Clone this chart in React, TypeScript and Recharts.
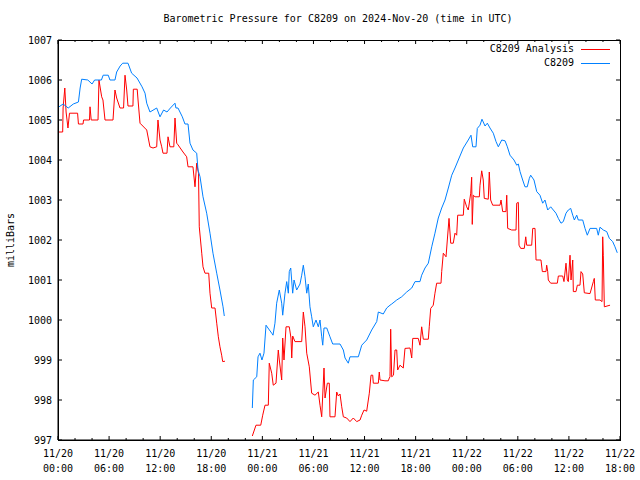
import { LineChart, Line, XAxis, YAxis } from 'recharts'

// [hours since 11/20 00:00 UTC, millibars]
const ANALYSIS_EARLY: [number, number][] = [
  [0.12, 1004.7], [0.55, 1004.7], [0.6, 1005.3], [0.8, 1005.8], [0.95, 1005.2], [1.17, 1004.8],
  [1.35, 1005.17], [2.3, 1005.17], [2.4, 1004.9], [2.94, 1004.9], [3.0, 1005.0], [3.7, 1005.0],
  [3.76, 1005.33], [3.9, 1005.0], [4.7, 1005.0], [4.81, 1006.0], [5.13, 1005.58], [5.28, 1005.5],
  [5.52, 1005.0], [6.46, 1005.0], [6.69, 1005.75], [6.89, 1005.55], [7.28, 1005.3], [7.7, 1005.3],
  [7.87, 1006.12], [8.07, 1005.75], [8.22, 1005.35], [8.8, 1005.35], [8.85, 1005.77], [9.3, 1005.77],
  [9.4, 1005.5], [9.63, 1004.92], [10.42, 1004.75], [10.8, 1004.33], [11.16, 1004.3], [11.59, 1004.33],
  [11.74, 1005.0], [11.98, 1004.5], [12.18, 1004.33], [12.33, 1004.17], [12.8, 1004.17], [12.92, 1004.58],
  [13.15, 1004.33], [13.6, 1004.33], [13.74, 1005.05], [13.94, 1004.42], [14.09, 1004.38], [14.68, 1004.2],
  [15.11, 1004.08], [15.27, 1003.83], [15.85, 1003.83], [16.09, 1003.33], [16.29, 1003.92], [16.5, 1003.67],
  [16.59, 1002.33], [16.88, 1001.67], [17.03, 1001.33], [17.26, 1001.17], [17.7, 1001.17], [17.85, 1000.67],
  [18.05, 1000.3], [18.44, 1000.3], [18.64, 999.92], [18.83, 999.58], [19.02, 999.33], [19.22, 999.12],
  [19.34, 998.96], [19.61, 998.97],
]

const ANALYSIS_LATE: [number, number][] = [
  [22.82, 997.1], [23.25, 997.37], [23.81, 997.37], [24.04, 997.62], [24.31, 997.87], [24.7, 997.87],
  [24.81, 998.92], [25.1, 998.67], [25.28, 998.37], [25.6, 998.42], [25.87, 999.25], [25.99, 999.0],
  [26.27, 998.5], [26.39, 999.55], [26.54, 999.0], [26.78, 999.83], [27.16, 999.83], [27.36, 999.55],
  [27.45, 999.05], [27.56, 999.6], [27.83, 999.46], [28.62, 999.46], [28.81, 1000.2], [29.01, 999.83],
  [29.21, 999.17], [29.51, 998.83], [29.79, 998.17], [30.18, 998.12], [30.57, 998.2], [30.77, 997.87],
  [30.97, 997.58], [31.24, 998.8], [31.36, 998.05], [31.63, 998.42], [31.86, 998.42], [31.94, 997.58],
  [32.53, 997.58], [32.73, 998.2], [32.92, 998.1], [33.12, 998.15], [33.32, 997.83], [33.51, 997.58],
  [33.9, 997.55], [34.29, 997.46], [34.68, 997.55], [35.08, 997.46], [35.47, 997.5], [35.67, 997.62],
  [35.94, 997.75], [36.25, 997.72], [36.56, 998.17], [36.76, 998.62], [36.96, 998.62], [37.03, 998.42],
  [37.62, 998.42], [37.73, 998.7], [37.82, 998.5], [38.4, 998.48], [38.79, 998.48], [38.91, 998.55],
  [38.99, 998.58], [39.07, 999.77], [39.19, 998.58], [39.4, 998.62], [39.58, 999.25], [39.78, 999.25],
  [39.89, 998.75], [40.16, 998.87], [40.55, 998.8], [40.75, 999.29], [41.34, 999.3], [41.54, 999.05],
  [41.66, 999.54], [42.31, 999.54], [42.51, 999.37], [42.71, 999.83], [42.9, 999.52], [43.49, 999.52],
  [43.6, 999.83], [43.77, 1000.29], [44.07, 1000.37], [44.27, 1000.67], [44.47, 1000.92], [44.98, 1000.92],
  [45.06, 1001.21], [45.25, 1001.67], [45.57, 1001.58], [45.72, 1002.0], [45.92, 1002.54], [46.12, 1001.92],
  [46.42, 1001.92], [46.62, 1002.17], [46.82, 1002.12], [46.94, 1002.62], [47.6, 1002.62], [47.71, 1003.02],
  [47.99, 1002.83], [48.18, 1002.75], [48.47, 1003.17], [48.58, 1003.57], [48.65, 1002.39], [48.77, 1003.12],
  [48.97, 1003.08], [49.48, 1003.08], [49.56, 1003.37], [49.76, 1003.73], [49.94, 1003.5], [50.06, 1003.04],
  [50.53, 1003.02], [50.65, 1003.7], [50.81, 1003.0], [51.05, 1002.87], [51.91, 1002.87], [52.03, 1003.0],
  [52.22, 1002.71], [52.61, 1002.71], [52.7, 1003.12], [52.81, 1002.29], [53.28, 1002.25], [53.79, 1002.25],
  [53.87, 1002.92], [54.06, 1002.94], [54.14, 1001.87], [54.34, 1001.79], [54.76, 1001.79], [54.93, 1002.08],
  [55.04, 1001.87], [55.63, 1001.87], [55.75, 1002.29], [56.02, 1002.29], [56.14, 1001.5], [56.72, 1001.5],
  [56.88, 1001.21], [57.31, 1001.21], [57.39, 1001.37], [57.51, 1001.21], [57.58, 1001.0], [57.86, 1000.92],
  [58.64, 1000.92], [58.76, 1001.1], [59.27, 1001.1], [59.42, 1000.96], [59.66, 1001.42], [59.81, 1001.0],
  [59.93, 1000.96], [60.13, 1001.62], [60.25, 1001.0], [60.45, 1001.5], [60.52, 1000.71], [60.83, 1000.71],
  [60.99, 1000.87], [61.3, 1000.87], [61.42, 1001.21], [61.62, 1001.15], [61.81, 1000.68], [62.48, 1000.66],
  [62.87, 1000.96], [62.98, 1001.04], [63.1, 1000.5], [63.65, 1000.5], [63.89, 1000.46], [63.97, 1002.08],
  [64.04, 1001.62], [64.16, 1000.33], [64.83, 1000.37],
]

const STATION_EARLY: [number, number][] = [
  [0.12, 1005.33], [0.6, 1005.4], [1.2, 1005.3], [1.8, 1005.4], [2.4, 1005.45], [2.6, 1005.8],
  [2.78, 1006.02], [3.5, 1006.0], [4.0, 1005.9], [4.3, 1006.0], [5.1, 1006.0], [5.3, 1006.12],
  [5.9, 1006.12], [6.1, 1006.0], [6.69, 1006.0], [6.89, 1006.2], [7.3, 1006.35], [7.6, 1006.42],
  [8.22, 1006.42], [8.65, 1006.17], [9.28, 1006.05], [9.87, 1005.83], [10.22, 1005.67], [10.42, 1005.42],
  [10.8, 1005.2], [11.59, 1005.3], [11.98, 1005.08], [12.4, 1005.25], [12.8, 1005.2], [13.2, 1005.3],
  [13.74, 1005.42], [13.85, 1005.3], [14.09, 1005.3], [14.6, 1005.08], [14.91, 1004.9], [15.27, 1004.9],
  [15.5, 1004.42], [15.85, 1004.25], [16.29, 1004.17], [16.44, 1003.75], [16.68, 1003.58], [17.03, 1003.08],
  [17.46, 1002.67], [17.85, 1002.17], [18.2, 1001.67], [18.64, 1001.17], [19.02, 1000.75], [19.38, 1000.33],
  [19.53, 1000.1],
]

const STATION_LATE: [number, number][] = [
  [22.82, 997.8], [22.94, 998.5], [23.34, 998.58], [23.49, 999.08], [23.72, 999.17], [23.95, 999.0],
  [24.19, 999.17], [24.43, 999.87], [24.66, 999.8], [25.1, 999.67], [25.25, 999.62], [25.48, 999.92],
  [25.68, 1000.42], [25.99, 1000.75], [26.27, 1000.42], [26.39, 1000.12], [26.66, 1000.67], [26.86, 1000.96],
  [27.05, 1000.67], [27.16, 1001.21], [27.33, 1001.3], [27.56, 1000.67], [27.72, 1001.0], [28.03, 1000.75],
  [28.42, 1000.9], [28.62, 1001.12], [28.81, 1001.37], [29.01, 1001.08], [29.21, 1000.67], [29.39, 1000.9],
  [29.59, 1000.33], [29.79, 1000.08], [29.98, 999.83], [30.3, 1000.0], [30.57, 999.83], [30.77, 1000.0],
  [30.97, 999.58], [31.09, 999.37], [31.24, 999.8], [31.56, 999.8], [31.94, 999.58], [32.26, 999.4],
  [33.12, 999.4], [33.51, 999.25], [33.71, 999.05], [34.09, 998.92], [34.29, 999.08], [35.27, 999.08],
  [35.67, 999.37], [36.25, 999.5], [36.84, 999.75], [37.43, 999.96], [37.62, 1000.2], [38.2, 1000.15],
  [38.6, 1000.3], [38.99, 1000.37], [39.19, 1000.4], [39.78, 1000.5], [40.36, 1000.58], [40.95, 1000.7],
  [41.54, 1000.8], [41.93, 1000.96], [42.51, 1000.96], [42.71, 1001.12], [43.1, 1001.3], [43.49, 1001.42],
  [43.89, 1001.83], [44.27, 1002.17], [44.66, 1002.55], [45.06, 1002.8], [45.45, 1003.0], [45.84, 1003.3],
  [46.24, 1003.62], [46.62, 1003.8], [47.01, 1004.0], [47.6, 1004.3], [48.18, 1004.5], [48.5, 1004.62],
  [48.7, 1004.33], [49.09, 1004.33], [49.24, 1004.79], [49.56, 1004.87], [49.79, 1005.02], [50.15, 1004.85],
  [50.42, 1004.92], [50.73, 1004.8], [51.12, 1004.67], [51.44, 1004.46], [51.71, 1004.33], [52.11, 1004.5],
  [52.5, 1004.48], [52.77, 1004.33], [53.08, 1004.12], [53.55, 1004.0], [53.87, 1003.87], [54.06, 1003.9],
  [54.26, 1003.71], [54.57, 1003.5], [54.84, 1003.33], [55.11, 1003.33], [55.35, 1003.54], [55.51, 1003.62],
  [55.9, 1003.5], [56.22, 1003.21], [56.6, 1003.12], [56.92, 1002.92], [57.19, 1003.0], [57.51, 1002.75],
  [57.86, 1002.83], [58.17, 1002.75], [58.48, 1002.67], [58.76, 1002.54], [59.07, 1002.42], [59.34, 1002.46],
  [59.66, 1002.67], [59.93, 1002.75], [60.21, 1002.79], [60.45, 1002.62], [60.64, 1002.5], [60.92, 1002.62],
  [61.1, 1002.5], [61.62, 1002.5], [61.89, 1002.29], [62.16, 1002.12], [62.48, 1002.29], [63.26, 1002.29],
  [63.45, 1002.12], [63.65, 1002.32], [64.04, 1002.25], [64.44, 1002.21], [64.75, 1002.04], [65.14, 1001.96],
  [65.41, 1001.83], [65.68, 1001.68],
]

const X_TICKS = Array.from({ length: 34 }, (_, i) => i * 2) // every 2h, labels every 6h
const Y_TICKS = [997, 998, 999, 1000, 1001, 1002, 1003, 1004, 1005, 1006, 1007]
const START_DAY = 20

// chart layout
const W = 640
const H = 480
const M = { top: 40, right: 20, bottom: 0, left: 0 }
const X_AXIS_H = 40
const Y_AXIS_W = 58
const PLOT_W = W - M.left - M.right - Y_AXIS_W
const PLOT_H = H - M.top - M.bottom - X_AXIS_H

const FONT = '"DejaVu Sans Mono", monospace'
const RED = '#ff0000'
const BLUE = '#0080ff'

const LEGEND = [
  { label: 'C8209 Analysis', color: RED },
  { label: 'C8209', color: BLUE },
]

// two segments with a null row between so the line breaks over the missing hours
const toRows = (a: [number, number][], b: [number, number][]) => [
  ...a.map(([h, mb]) => ({ h, mb })),
  { h: (a[a.length - 1][0] + b[0][0]) / 2, mb: null },
  ...b.map(([h, mb]) => ({ h, mb })),
]
const analysisRows = toRows(ANALYSIS_EARLY, ANALYSIS_LATE)
const stationRows = toRows(STATION_EARLY, STATION_LATE)

const pad = (n: number) => String(n).padStart(2, '0')

// bottom tick + mirrored top tick
const BottomTick = ({ x, y, payload }: any) => {
  const h = payload.value
  const major = h % 6 === 0
  const len = major ? 4 : 2
  return (
    <g>
      <line x1={x} y1={y} x2={x} y2={y - len} stroke="#000" />
      <line x1={x} y1={y - PLOT_H} x2={x} y2={y - PLOT_H + len} stroke="#000" />
      {major && (
        <text x={x} y={y + 17} textAnchor="middle" fontFamily={FONT} fontSize={10} fill="#000">
          <tspan x={x}>{`11/${START_DAY + Math.floor(h / 24)}`}</tspan>
          <tspan x={x} dy={15}>{`${pad(h % 24)}:00`}</tspan>
        </text>
      )}
    </g>
  )
}

const LeftTick = ({ x, y, payload }: any) => (
  <g>
    <line x1={x} y1={y} x2={x + 4} y2={y} stroke="#000" />
    <line x1={x + PLOT_W} y1={y} x2={x + PLOT_W - 4} y2={y} stroke="#000" />
    <text x={x - 6} y={y + 4} textAnchor="end" fontFamily={FONT} fontSize={10} fill="#000">{payload.value}</text>
  </g>
)

export default function App() {
  return (
    <div style={{ position: 'absolute', left: 0, top: 0, width: W, height: H, background: '#fff', fontFamily: FONT, fontSize: 10 }}>
      <LineChart width={W} height={H} margin={M}>
        <XAxis dataKey="h" type="number" domain={[0, 66]} ticks={X_TICKS} interval={0}
          height={X_AXIS_H} tickSize={0} tickMargin={0} tick={<BottomTick />} axisLine={{ stroke: '#000' }} allowDataOverflow />
        <YAxis type="number" domain={[997, 1007]} ticks={Y_TICKS} interval={0}
          width={Y_AXIS_W} tickSize={0} tickMargin={0} tick={<LeftTick />} axisLine={{ stroke: '#000' }} allowDataOverflow />
        <Line data={analysisRows} dataKey="mb" name="C8209 Analysis" stroke={RED}
          strokeWidth={1} dot={false} isAnimationActive={false} type="linear" />
        <Line data={stationRows} dataKey="mb" name="C8209" stroke={BLUE}
          strokeWidth={1} dot={false} isAnimationActive={false} type="linear" />
      </LineChart>

      {/* border box around the plot area */}
      <div style={{
        position: 'absolute', left: M.left + Y_AXIS_W, top: M.top, width: PLOT_W + 1, height: PLOT_H + 1,
        border: '1px solid #000', boxSizing: 'border-box', pointerEvents: 'none',
      }} />

      <div style={{ position: 'absolute', left: 0, width: W, top: 13, textAlign: 'center', paddingLeft: 36, boxSizing: 'border-box' }}>
        Barometric Pressure for C8209 on 2024-Nov-20 (time in UTC)
      </div>

      <div style={{ position: 'absolute', left: 10, top: 240, transform: 'translate(-50%, -50%) rotate(-90deg)', whiteSpace: 'nowrap' }}>
        milliBars
      </div>

      {LEGEND.map((item, i) => (
        <div key={item.label}>
          <div style={{ position: 'absolute', right: 66, top: 43 + i * 14, textAlign: 'right', whiteSpace: 'nowrap' }}>
            {item.label}
          </div>
          <div style={{ position: 'absolute', left: 581, top: 49 + i * 14, width: 29, height: 1, background: item.color }} />
        </div>
      ))}
    </div>
  )
}
